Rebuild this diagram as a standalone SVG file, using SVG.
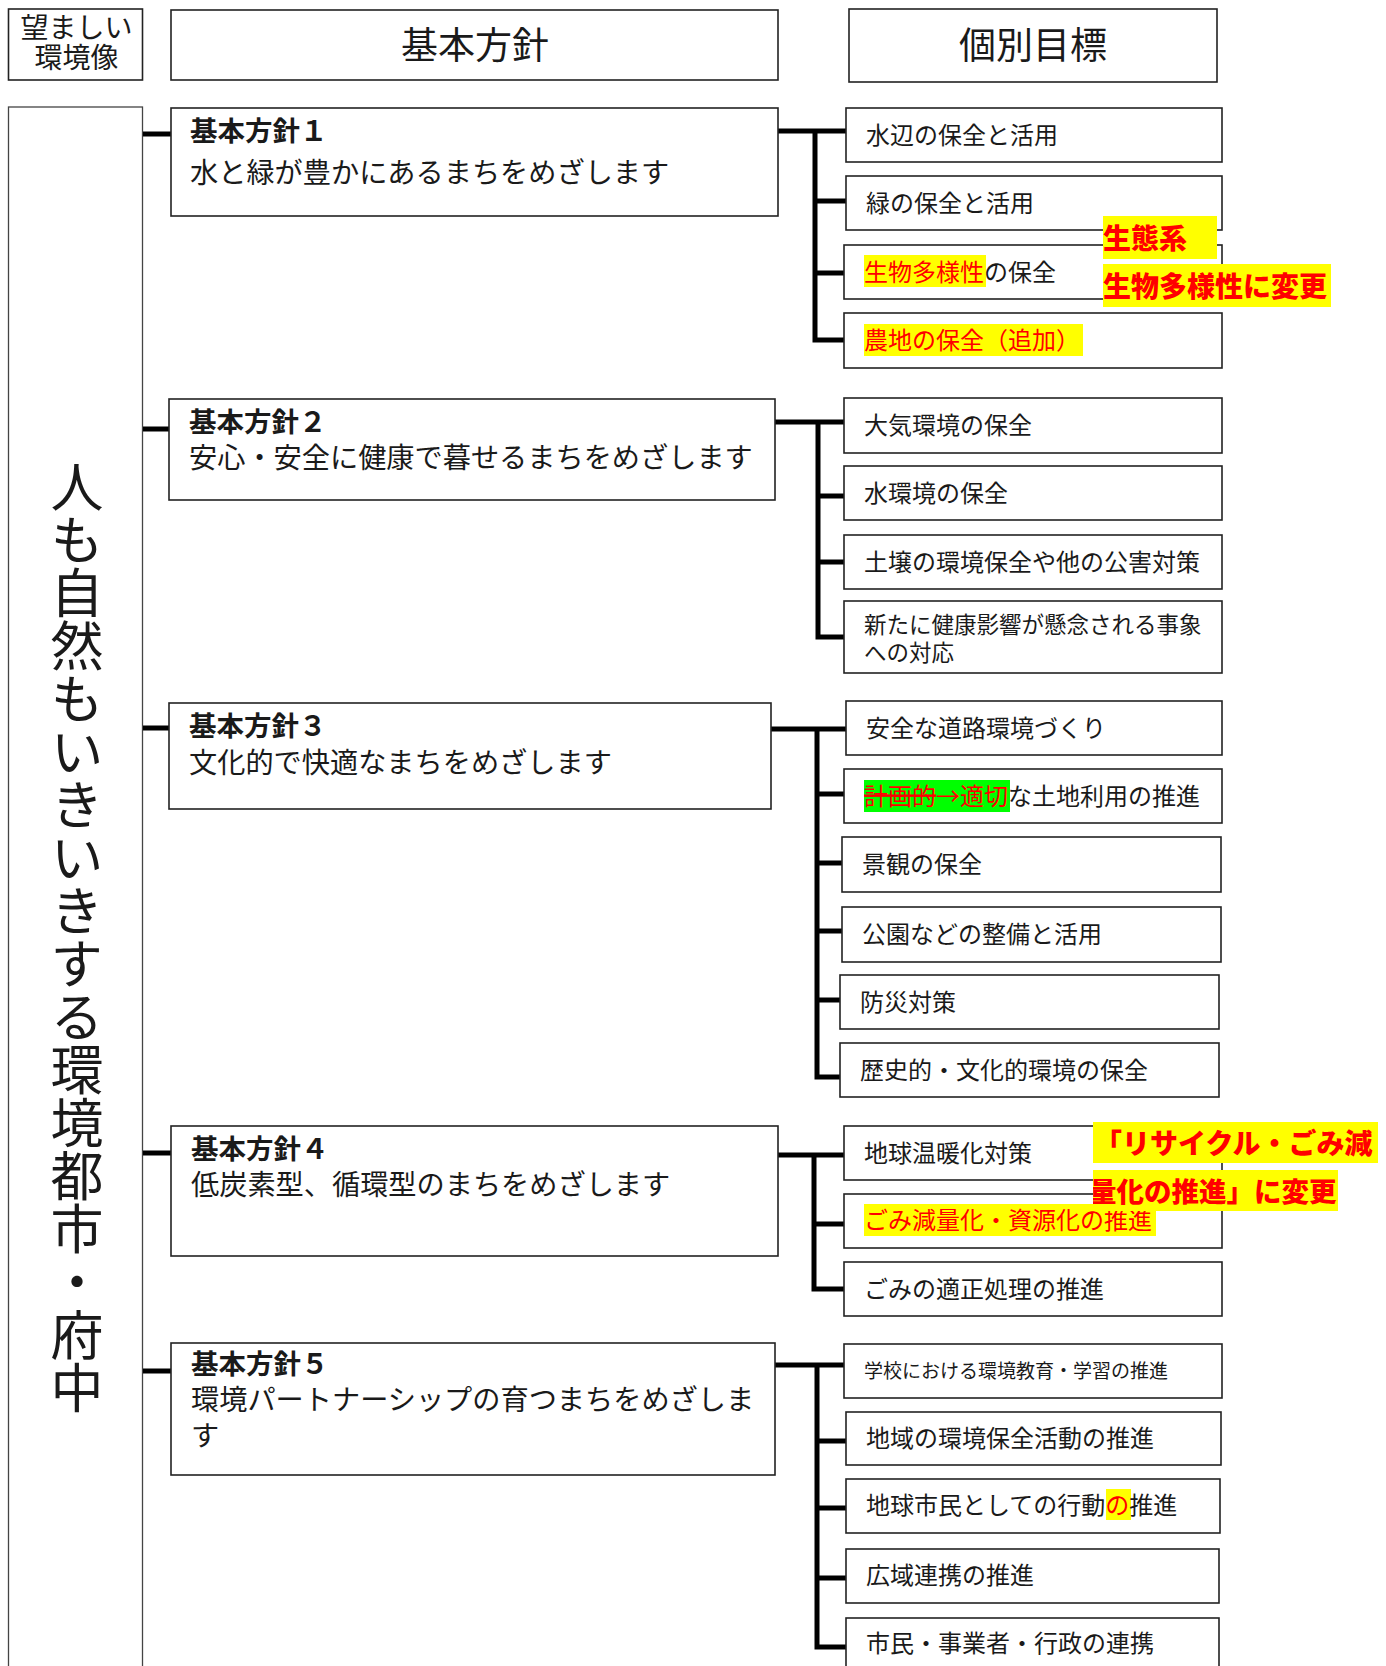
<svg xmlns="http://www.w3.org/2000/svg" width="1386" height="1666" viewBox="0 0 1386 1666">
<style>
.box{fill:#fff;stroke:#222;stroke-width:1.6}
.lbox{fill:#fff;stroke:#444;stroke-width:1.3}
.conn{stroke:#000;stroke-width:5;fill:none}
text{font-family:"Noto Sans CJK JP","Noto Sans CJK SC",sans-serif;fill:#1a1a1a}
.h{font-size:28px}
.hb{font-size:37px}
.pt{font-size:27.5px;font-weight:bold}
.ps{font-size:28.2px}
.g{font-size:24px}
.gs{font-size:22.5px}
.gxs{font-size:19px}
.red{fill:#ff0000}
.ann{font-size:28px;font-weight:900;fill:#ff0000}
.ann2{font-size:27.5px;font-weight:900;fill:#ff0000}
.yel{fill:#ffff00}
.grn{fill:#00ff00}
</style>
<defs>
<clipPath id="clipA4"><rect x="1093" y="1170" width="245" height="41"/></clipPath>
</defs>

<g id="header-vision">
<rect class="box" x="8.5" y="9" width="134" height="71"/>
<text class="h" x="76.5" y="38" text-anchor="middle">望ましい</text>
<text class="h" x="76.5" y="68" text-anchor="middle">環境像</text>
</g>
<g id="header-policy">
<rect class="box" x="171" y="10" width="607" height="70"/>
<text class="hb" x="475" y="59" text-anchor="middle">基本方針</text>
</g>
<g id="header-target">
<rect class="box" x="849" y="9" width="368" height="73"/>
<text class="hb" x="1033" y="59" text-anchor="middle">個別目標</text>
</g>

<g id="vision">
<rect class="lbox" x="8.5" y="107" width="134" height="1580"/>
<text x="77" y="460" style="writing-mode:vertical-rl;font-size:53px">人も自然もいきいきする環境都市・府中</text>
</g>

<g id="connectors">
<path class="conn" d="M143 134H171M143 429H169M143 728H169M143 1153H171M143 1371H171"/>
<path class="conn" d="M777 131H846M815 128.5V342.5M815 201H846M815 273H844M815 340H844"/>
<path class="conn" d="M775 422H844M818 419.5V639.5M818 496H844M818 562H844M818 637H844"/>
<path class="conn" d="M771 729H846M817 726.5V1079.5M817 794H844M817 863H842M817 931H842M817 1000H840M817 1077H840"/>
<path class="conn" d="M778 1155H844M814 1152.5V1291.5M814 1224H844M814 1289H844"/>
<path class="conn" d="M775 1365H844M817 1362.5V1649.5M817 1441H846M817 1508H846M817 1578H846M817 1647H846"/>
</g>

<g id="policy1">
<rect class="box" x="171" y="108" width="607" height="108"/>
<text class="pt" x="190" y="141">基本方針１</text>
<text class="ps" x="190" y="183">水と緑が豊かにあるまちをめざします</text>
</g>
<g id="policy2">
<rect class="box" x="169" y="399" width="606" height="101"/>
<text class="pt" x="189" y="432">基本方針２</text>
<text class="ps" x="189" y="468">安心・安全に健康で暮せるまちをめざします</text>
</g>
<g id="policy3">
<rect class="box" x="169" y="703" width="602" height="106"/>
<text class="pt" x="189" y="736">基本方針３</text>
<text class="ps" x="189" y="773">文化的で快適なまちをめざします</text>
</g>
<g id="policy4">
<rect class="box" x="171" y="1126" width="607" height="130"/>
<text class="pt" x="191" y="1159">基本方針４</text>
<text class="ps" x="191" y="1195">低炭素型、循環型のまちをめざします</text>
</g>
<g id="policy5">
<rect class="box" x="171" y="1343" width="604" height="132"/>
<text class="pt" x="191" y="1374">基本方針５</text>
<text class="ps" x="191" y="1410">環境パートナーシップの育つまちをめざしま</text>
<text class="ps" x="191" y="1446">す</text>
</g>

<g id="t1-1"><rect class="box" x="846" y="108" width="376" height="54"/><text class="g" x="866" y="144">水辺の保全と活用</text></g>
<g id="t1-2"><rect class="box" x="846" y="176" width="376" height="54"/><text class="g" x="866" y="212">緑の保全と活用</text></g>
<g id="t1-3"><rect class="box" x="844" y="245" width="378" height="54"/>
<rect class="yel" x="864" y="255" width="122" height="32"/>
<text class="g" x="864" y="281"><tspan class="red">生物多様性</tspan>の保全</text></g>
<g id="t1-4"><rect class="box" x="844" y="313" width="378" height="55"/>
<rect class="yel" x="864" y="324" width="219" height="32"/>
<text class="g red" x="864" y="349">農地の保全（追加）</text></g>

<g id="t2-1"><rect class="box" x="844" y="398" width="378" height="55"/><text class="g" x="864" y="434">大気環境の保全</text></g>
<g id="t2-2"><rect class="box" x="844" y="466" width="378" height="54"/><text class="g" x="864" y="502">水環境の保全</text></g>
<g id="t2-3"><rect class="box" x="844" y="535" width="378" height="54"/><text class="g" x="864" y="571">土壌の環境保全や他の公害対策</text></g>
<g id="t2-4"><rect class="box" x="844" y="601" width="378" height="72"/>
<text class="gs" x="864" y="633">新たに健康影響が懸念される事象</text>
<text class="gs" x="864" y="661">への対応</text></g>

<g id="t3-1"><rect class="box" x="846" y="701" width="376" height="54"/><text class="g" x="866" y="737">安全な道路環境づくり</text></g>
<g id="t3-2"><rect class="box" x="844" y="769" width="378" height="54"/>
<rect class="grn" x="864" y="780" width="146" height="32"/>
<text class="g" x="864" y="805"><tspan class="red" style="text-decoration:line-through">計画的</tspan><tspan class="red">→適切</tspan>な土地利用の推進</text></g>
<g id="t3-3"><rect class="box" x="842" y="837" width="379" height="55"/><text class="g" x="862" y="873">景観の保全</text></g>
<g id="t3-4"><rect class="box" x="842" y="907" width="379" height="55"/><text class="g" x="862" y="943">公園などの整備と活用</text></g>
<g id="t3-5"><rect class="box" x="840" y="975" width="379" height="54"/><text class="g" x="860" y="1011">防災対策</text></g>
<g id="t3-6"><rect class="box" x="840" y="1043" width="379" height="54"/><text class="g" x="860" y="1079">歴史的・文化的環境の保全</text></g>

<g id="t4-1"><rect class="box" x="844" y="1126" width="378" height="54"/><text class="g" x="864" y="1162">地球温暖化対策</text></g>
<g id="t4-2"><rect class="box" x="844" y="1194" width="378" height="54"/>
<rect class="yel" x="864" y="1204" width="292" height="32"/>
<text class="g red" x="864" y="1229">ごみ減量化・資源化の推進</text></g>
<g id="t4-3"><rect class="box" x="844" y="1262" width="378" height="54"/><text class="g" x="864" y="1298">ごみの適正処理の推進</text></g>

<g id="t5-1"><rect class="box" x="844" y="1344" width="378" height="54"/><text class="gxs" x="864" y="1378">学校における環境教育・学習の推進</text></g>
<g id="t5-2"><rect class="box" x="846" y="1412" width="375" height="53"/><text class="g" x="866" y="1447">地域の環境保全活動の推進</text></g>
<g id="t5-3"><rect class="box" x="846" y="1479" width="374" height="54"/>
<rect class="yel" x="1106" y="1489" width="25" height="31"/>
<text class="g" x="866" y="1514">地球市民としての行動<tspan class="red">の</tspan>推進</text></g>
<g id="t5-4"><rect class="box" x="846" y="1549" width="373" height="54"/><text class="g" x="866" y="1584">広域連携の推進</text></g>
<g id="t5-5"><rect class="box" x="846" y="1618" width="373" height="70"/><text class="g" x="866" y="1652">市民・事業者・行政の連携</text></g>

<g id="annotation-1">
<rect class="yel" x="1103" y="216" width="114" height="43"/>
<text class="ann" x="1103" y="249">生態系</text>
<rect class="yel" x="1103" y="264" width="228" height="43"/>
<text class="ann" x="1103" y="297">生物多様性に変更</text>
</g>
<g id="annotation-2">
<rect class="yel" x="1093" y="1122" width="285" height="41"/>
<text class="ann" x="1094" y="1154">「リサイクル・ごみ減</text>
<rect class="yel" x="1093" y="1170" width="245" height="41"/>
<text class="ann2" x="1089" y="1202" clip-path="url(#clipA4)">量化の推進」に変更</text>
</g>
</svg>
